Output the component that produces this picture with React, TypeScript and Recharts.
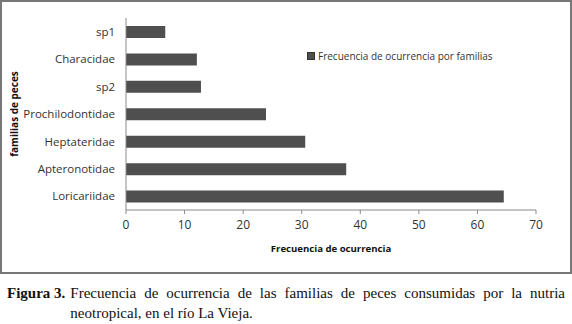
import React from "react"
import { BarChart, Bar, XAxis, YAxis } from "recharts"

// families, top to bottom as drawn
const families = ["sp1", "Characidae", "sp2", "Prochilodontidae", "Heptateridae", "Apteronotidae", "Loricariidae"]
const frecuencia = [6.7, 12.1, 12.8, 23.9, 30.6, 37.6, 64.5]
const xTicks = [0, 10, 20, 30, 40, 50, 60, 70]

const seriesName = "Frecuencia de ocurrencia por familias"
const barColor = "#4f4f4f"
const axisColor = "#8a8a8a"
const font = "'Open Sans', sans-serif"

const data = families.map((name, i) => ({ name, value: frecuencia[i] }))

export default function App() {
  return (
    <div style={{ position: "absolute", left: 0, top: 0, width: 572, height: 324, background: "#fff" }}>
      <div style={{ position: "absolute", left: 0, top: 0, width: 568, height: 270, border: "2px solid #777" }}>
        <BarChart
          width={568}
          height={270}
          data={data}
          layout="vertical"
          margin={{ top: 16, right: 34, bottom: 17, left: 0 }}
          barSize={12}
        >
          <XAxis
            type="number"
            domain={[0, 70]}
            ticks={xTicks}
            tickSize={4}
            tickMargin={6}
            stroke={axisColor}
            tick={{ fill: "#333", fontSize: 12, fontFamily: font }}
            height={45}
            label={{
              value: "Frecuencia de ocurrencia",
              position: "insideBottom",
              offset: 3,
              style: { fill: "#111", fontSize: 9.6, fontWeight: 700, fontFamily: font },
            }}
          />
          <YAxis
            type="category"
            dataKey="name"
            width={124}
            tickLine={false}
            tickSize={0}
            tickMargin={11}
            stroke={axisColor}
            tick={{ fill: "#333", fontSize: 11.5, fontFamily: font }}
            label={{
              value: "familias de peces",
              angle: -90,
              position: "insideLeft",
              offset: 12,
              style: { textAnchor: "middle", fill: "#111", fontSize: 10, fontWeight: 700, fontFamily: font },
            }}
          />
          <Bar dataKey="value" name={seriesName} fill={barColor} isAnimationActive={false} />
        </BarChart>
        <div
          style={{
            position: "absolute",
            left: 305,
            top: 47,
            display: "flex",
            alignItems: "center",
            fontFamily: font,
            fontSize: 10,
            color: "#333",
          }}
        >
          <span style={{ width: 6, height: 6, background: barColor, border: "1px solid #333", marginRight: 3 }} />
          <span>{seriesName}</span>
        </div>
      </div>
      <div
        style={{
          position: "absolute",
          left: 7,
          top: 283,
          width: 558,
          display: "flex",
          fontFamily: "'Liberation Serif', serif",
          fontSize: 15,
          lineHeight: "20px",
          color: "#111",
        }}
      >
        <span style={{ fontWeight: 700, whiteSpace: "nowrap", marginRight: 5 }}>Figura 3.</span>
        <span style={{ textAlign: "justify" }}>
          Frecuencia de ocurrencia de las familias de peces consumidas por la nutria neotropical, en el río La Vieja.
        </span>
      </div>
    </div>
  )
}
